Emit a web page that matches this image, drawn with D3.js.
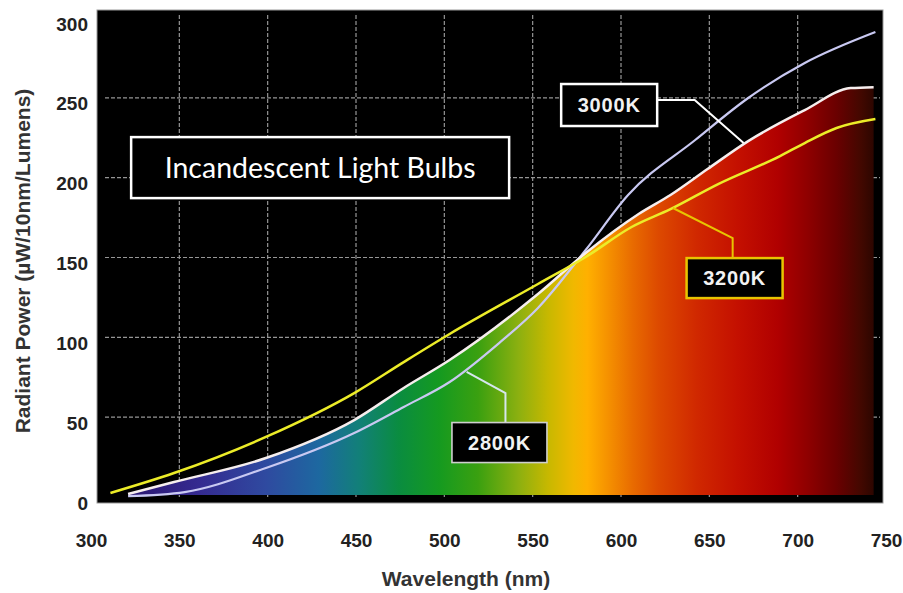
<!DOCTYPE html>
<html><head><meta charset="utf-8">
<script src="https://cdn.jsdelivr.net/npm/d3@7"></script>
<style>html,body{margin:0;padding:0;background:#fff;}svg{display:block;}</style>
</head><body>
<svg id="c" width="903" height="593"></svg>
<script>
// ---- data (wavelength nm, radiant power µW/10nm/lumen) ----
const xTicks = [300,350,400,450,500,550,600,650,700,750];
const yTicks = [0,50,100,150,200,250,300];
const xGrid = [350,400,450,500,550,600,650,700];
const yGrid = [50,100,150,200,250];

const wl3200 = [311,347,399,449,477,503,553,580,606,628,655,690,704,722,744];
const val3200 = [2.5,15.0,37.6,65.1,84.5,102.1,133.4,150.3,169.1,180.3,196.0,213.5,221.7,231.1,236.7];
const wl3000 = [321,347,399,449,477,503,553,580,610,628,649,672,704,730,743];
const val3000 = [1.9,9.4,24.4,48.2,68.3,85.8,127.1,152.8,177.2,189.1,205.4,222.9,242.3,256.1,256.7];
const wl2800 = [321,353,399,449,477,503,531,553,580,604,642,672,704,744];
const val2800 = [0.5,3.1,18.2,40.1,56.4,72.0,96.4,118.4,154.7,189.1,223.6,249.9,271.8,291.2];

const spectrumWl = [321,361,399,429,452,474,497,519,542,559,573,581,593,607,621,643,666,689,705,722,736,747];
const spectrumColor = ["#2a1670","#352a90","#2f4aa0","#1d68a0","#128078","#0a8c40","#159a20","#3aa010","#8cb010","#c8b800","#f0b800","#ffb000","#f59000","#e86a00","#dd4a00","#d02800","#c41000","#b00000","#900000","#6a0000","#420800","#200500"];

const seriesNames = ["2800K","3000K","3200K"];
const titleText = "Incandescent Light Bulbs";
const xTitle = "Wavelength (nm)";
const yTitle = "Radiant Power (µW/10nm/Lumens)";

// ---- layout ----
const svg = d3.select("#c");
const x = d3.scaleLinear().domain([300,750]).range([91,886]);
const y = d3.scaleLinear().domain([0,300]).range([497,18]);

// plot background
svg.append("rect").attr("x",97).attr("y",10).attr("width",786).attr("height",493)
  .attr("fill","#000").attr("stroke","#999").attr("stroke-width",1);

// gradient
const defs = svg.append("defs");
const grad = defs.append("linearGradient").attr("id","spec")
  .attr("gradientUnits","userSpaceOnUse")
  .attr("x1",x(spectrumWl[0])).attr("x2",x(spectrumWl[spectrumWl.length-1])).attr("y1",0).attr("y2",0);
const w0 = spectrumWl[0], w1 = spectrumWl[spectrumWl.length-1];
spectrumWl.forEach((w,i)=>{
  grad.append("stop").attr("offset",((w-w0)/(w1-w0)*100)+"%").attr("stop-color",spectrumColor[i]);
});

// grid
const grid = svg.append("g").attr("stroke","#c8c8c8").attr("stroke-width",1.2)
  .attr("stroke-dasharray","4,2").attr("opacity",0.75);
grid.selectAll("line.v").data(xGrid).join("line").attr("class","v")
  .attr("x1",d=>x(d)).attr("x2",d=>x(d)).attr("y1",15).attr("y2",y(0));
grid.selectAll("line.h").data(yGrid).join("line").attr("class","h")
  .attr("x1",105).attr("x2",880).attr("y1",d=>y(d)).attr("y2",d=>y(d));

const toPts = (wl,v)=>wl.map((w,i)=>[w,v[i]]);
const p3200 = toPts(wl3200,val3200), p3000 = toPts(wl3000,val3000), p2800 = toPts(wl2800,val2800);

// fill under 3000K
const area = d3.area().curve(d3.curveMonotoneX).x(d=>x(d[0])).y0(y(1.2)).y1(d=>y(d[1]));
svg.append("path").datum(p3000).attr("d",area).attr("fill","url(#spec)");

const line = d3.line().curve(d3.curveMonotoneX).x(d=>x(d[0])).y(d=>y(d[1]));
svg.append("path").datum(p2800).attr("d",line).attr("fill","none").attr("stroke","#c9c9f2").attr("stroke-width",2.2);
svg.append("path").datum(p3000).attr("d",line).attr("fill","none").attr("stroke","#f6eeee").attr("stroke-width",2.5);
svg.append("path").datum(p3200).attr("d",line).attr("fill","none").attr("stroke","#ecec28").attr("stroke-width",2.5);

// annotations (data-space anchors)
const annotations = [
  {name:"3000K", cx:593.3, cy:245.5, w:96, h:42, stroke:"#ffffff", sw:2.5,
   leader:[[620.3,248.6],[641.7,248.6],[669.4,221.7]], lc:"#ffffff"},
  {name:"3200K", cx:664.3, cy:137.1, w:96, h:40, stroke:"#e8c400", sw:2.5,
   leader:[[663.2,149.7],[663.2,162.2],[629.4,181.0]], lc:"#e8c400"},
  {name:"2800K", cx:531.2, cy:34.1, w:95, h:40, stroke:"#cfcfcf", sw:1.6,
   leader:[[534.6,47.0],[534.6,65.1],[512.6,78.3]], lc:"#d6e6ee"}
];
const lineRaw = d3.line().x(d=>x(d[0])).y(d=>y(d[1]));
annotations.forEach(a=>{
  svg.append("path").attr("d",lineRaw(a.leader)).attr("fill","none").attr("stroke",a.lc).attr("stroke-width",2);
  const g = svg.append("g").attr("transform",`translate(${x(a.cx)},${y(a.cy)})`);
  g.append("rect").attr("x",-a.w/2).attr("y",-a.h/2).attr("width",a.w).attr("height",a.h)
    .attr("fill","#000").attr("stroke",a.stroke).attr("stroke-width",a.sw);
  g.append("text").attr("text-anchor","middle").attr("y",7)
    .attr("font-family","Liberation Sans, Arial, sans-serif").attr("font-weight","bold")
    .attr("font-size",20).attr("letter-spacing",0.8).attr("fill","#f2f2f2").text(a.name);
});

// title box
const tg = svg.append("g").attr("transform",`translate(${x(429.7)},${y(206.3)})`);
tg.append("rect").attr("x",-189).attr("y",-30.5).attr("width",378).attr("height",61)
  .attr("fill","#000").attr("stroke","#fff").attr("stroke-width",2.5);
tg.append("text").attr("text-anchor","middle").attr("y",10)
  .attr("font-family","Lato, 'Open Sans', sans-serif").attr("font-size",28.5)
  .attr("fill","#fff").text(titleText);

// axes
const ax = svg.append("g").attr("transform","translate(0,530)")
  .call(d3.axisBottom(x).tickValues(xTicks).tickSize(0).tickPadding(3).tickFormat(d3.format("d")));
ax.select(".domain").remove();
ax.selectAll("text").attr("font-family","Liberation Sans, Arial, sans-serif")
  .attr("font-size",19).attr("font-weight","bold").attr("fill","#222");

const ay = svg.append("g").attr("transform","translate(91,6)")
  .call(d3.axisLeft(y).tickValues(yTicks).tickSize(0).tickPadding(3).tickFormat(d3.format("d")));
ay.select(".domain").remove();
ay.selectAll("text").attr("font-family","Liberation Sans, Arial, sans-serif")
  .attr("font-size",19).attr("font-weight","bold").attr("fill","#222");

svg.append("text").attr("x",466).attr("y",586).attr("text-anchor","middle")
  .attr("font-family","Liberation Sans, Arial, sans-serif").attr("font-size",21).attr("font-weight","bold")
  .attr("fill","#333").text(xTitle);
svg.append("text").attr("transform","translate(30,261) rotate(-90)").attr("text-anchor","middle")
  .attr("font-family","Liberation Sans, Arial, sans-serif").attr("font-size",21).attr("font-weight","bold")
  .attr("fill","#333").text(yTitle);
</script>
</body></html>
